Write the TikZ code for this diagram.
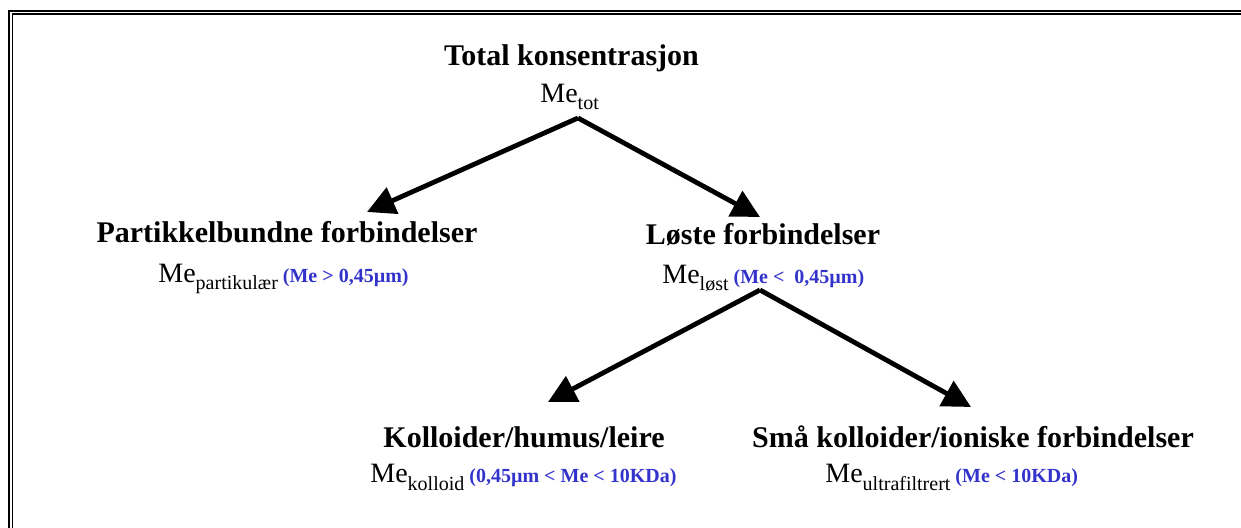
\documentclass[tikz,border=0pt]{standalone}
\usepackage{fontspec}
\setmainfont{Liberation Serif}
\usetikzlibrary{arrows.meta}
\definecolor{noteblue}{RGB}{51,51,204}
\newcommand{\lowered}[1]{\raisebox{-3.5pt}{\fontsize{10}{12}\selectfont #1}}
\newcommand{\sizenote}[1]{{\fontsize{10}{12}\selectfont\bfseries\color{noteblue}\ #1}}
\tikzset{
  head/.style={anchor=base, inner sep=0pt, font=\fontsize{15}{18}\selectfont\bfseries},
  meline/.style={anchor=base west, inner sep=0pt, font=\fontsize{14}{17}\selectfont},
  branch/.style={line width=2.4pt, -{Triangle[length=14pt,width=14pt]}},
}
\begin{document}
\begin{tikzpicture}[x=0.5pt,y=-0.5pt]
\useasboundingbox (0,0) rectangle (1241,528);
% double frame
\draw[line width=1.2pt] (9,528) -- (9,11) -- (1241,11);
\draw[line width=0.6pt] (12.5,528) -- (12.5,14) -- (1241,14);
% texts
\node[head] (total) at (571.5,66) {Total konsentrasjon};
\node[meline] (tot) at (540,103) {Me\lowered{tot}};
\node[head] (part) at (287,243) {Partikkelbundne forbindelser};
\node[meline] (mepart) at (158,283) {Me\lowered{partikulær}\sizenote{(Me > 0,45µm)}};
\node[head] (lost) at (763,245) {Løste forbindelser};
\node[meline] (melost) at (662,284) {Me\lowered{løst}\sizenote{(Me <\ \ 0,45µm)}};
\node[head] (koll) at (524,448) {Kolloider/humus/leire};
\node[meline] (mekoll) at (370,483) {Me\lowered{kolloid}\sizenote{(0,45µm < Me < 10KDa)}};
\node[head] (smaa) at (973,448) {Små kolloider/ioniske forbindelser};
\node[meline] (meultra) at (825,483) {Me\lowered{ultrafiltrert}\sizenote{(Me < 10KDa)}};
% branches
\coordinate (split1) at (578,118);
\coordinate (split2) at (760,290);
\coordinate (tippart) at (367,212);
\coordinate (tiplost) at (760,217);
\coordinate (tipkoll) at (548,402);
\coordinate (tipsmaa) at (971,407);
\draw[branch] (split1) -- (tippart);
\draw[branch] (split1) -- (tiplost);
\draw[branch] (split2) -- (tipkoll);
\draw[branch] (split2) -- (tipsmaa);
\end{tikzpicture}
\end{document}
